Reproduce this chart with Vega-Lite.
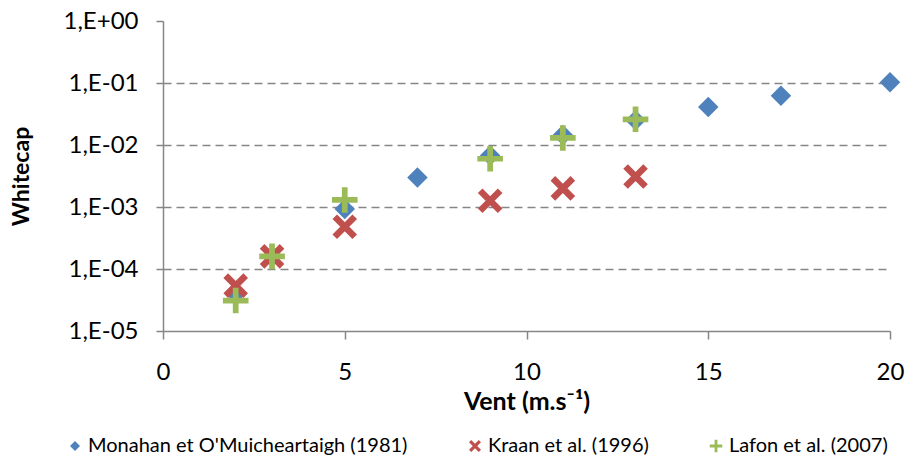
{
  "$schema": "https://vega.github.io/schema/vega-lite/v6.json",
  "width": 727,
  "height": 310,
  "autosize": {"type": "none"},
  "padding": {"left": 163, "top": 21, "right": 15, "bottom": 126},
  "background": "white",
  "config": {
    "view": {"stroke": null},
    "font": "Lato",
    "axis": {"labelFont": "Lato", "titleFont": "Lato", "labelColor": "#000000", "titleColor": "#000000", "domainColor": "#868686", "tickColor": "#868686", "domainWidth": 1.5, "tickWidth": 1.5}
  },
  "data": {
    "values": [
      {"v": 2, "w": 0.00004, "s": "Monahan et O'Muicheartaigh (1981)"},
      {"v": 3, "w": 0.00016, "s": "Monahan et O'Muicheartaigh (1981)"},
      {"v": 5, "w": 0.00093, "s": "Monahan et O'Muicheartaigh (1981)"},
      {"v": 7, "w": 0.0030, "s": "Monahan et O'Muicheartaigh (1981)"},
      {"v": 9, "w": 0.0068, "s": "Monahan et O'Muicheartaigh (1981)"},
      {"v": 11, "w": 0.0145, "s": "Monahan et O'Muicheartaigh (1981)"},
      {"v": 13, "w": 0.025, "s": "Monahan et O'Muicheartaigh (1981)"},
      {"v": 15, "w": 0.041, "s": "Monahan et O'Muicheartaigh (1981)"},
      {"v": 17, "w": 0.062, "s": "Monahan et O'Muicheartaigh (1981)"},
      {"v": 20, "w": 0.103, "s": "Monahan et O'Muicheartaigh (1981)"},
      {"v": 2, "w": 0.000054, "s": "Kraan et al. (1996)"},
      {"v": 3, "w": 0.00016, "s": "Kraan et al. (1996)"},
      {"v": 5, "w": 0.00048, "s": "Kraan et al. (1996)"},
      {"v": 9, "w": 0.00126, "s": "Kraan et al. (1996)"},
      {"v": 11, "w": 0.0020, "s": "Kraan et al. (1996)"},
      {"v": 13, "w": 0.0031, "s": "Kraan et al. (1996)"},
      {"v": 2, "w": 0.000031, "s": "Lafon et al. (2007)"},
      {"v": 3, "w": 0.00016, "s": "Lafon et al. (2007)"},
      {"v": 5, "w": 0.0013, "s": "Lafon et al. (2007)"},
      {"v": 9, "w": 0.0060, "s": "Lafon et al. (2007)"},
      {"v": 11, "w": 0.013, "s": "Lafon et al. (2007)"},
      {"v": 13, "w": 0.026, "s": "Lafon et al. (2007)"}
    ]
  },
  "mark": {"type": "point", "filled": true, "opacity": 1, "size": 420, "strokeWidth": 0},
  "encoding": {
    "x": {
      "field": "v", "type": "quantitative",
      "scale": {"domain": [0, 20], "nice": false, "zero": false},
      "axis": {
        "values": [0, 5, 10, 15, 20], "grid": false, "tickSize": 8, "labelFlush": false,
        "labelFontSize": 24, "labelPadding": 21,
        "title": "Vent (m.s⁻¹)", "titleFontSize": 25, "titleFontWeight": "bold", "titlePadding": 5
      }
    },
    "y": {
      "field": "w", "type": "quantitative",
      "scale": {"type": "log", "domain": [0.00001, 1], "nice": false},
      "axis": {
        "values": [0.00001, 0.0001, 0.001, 0.01, 0.1, 1],
        "labelExpr": "datum.value >= 1 ? '1,E+00' : '1,E-0' + abs(round(log(datum.value) / LN10))",
        "tickSize": 7, "labelFontSize": 24, "labelPadding": 18, "labelFlush": false,
        "grid": true, "gridColor": "#868686", "gridWidth": 1.5, "gridDash": [8, 5],
        "gridOpacity": {"condition": {"test": "datum.value >= 1 || datum.value <= 0.00001", "value": 0}, "value": 1},
        "title": "Whitecap", "titleFontSize": 23, "titleFontWeight": "bold", "titlePadding": 30
      }
    },
    "color": {
      "field": "s", "type": "nominal",
      "scale": {
        "domain": ["Monahan et O'Muicheartaigh (1981)", "Kraan et al. (1996)", "Lafon et al. (2007)"],
        "range": ["#4F81BD", "#C0504D", "#9BBB59"]
      },
      "legend": {
        "orient": "none", "direction": "horizontal", "legendX": -98, "legendY": 415,
        "title": null, "labelFontSize": 20, "labelColor": "#000000", "symbolSize": 100,
        "columnPadding": 57, "labelOffset": 3, "symbolStrokeWidth": 0, "labelLimit": 0
      }
    },
    "shape": {
      "field": "s", "type": "nominal",
      "scale": {
        "domain": ["Monahan et O'Muicheartaigh (1981)", "Kraan et al. (1996)", "Lafon et al. (2007)"],
        "range": [
          "diamond",
          "M-0.75,-1.2L1.2,0.75L0.75,1.2L-1.2,-0.75ZM0.75,-1.2L1.2,-0.75L-0.75,1.2L-1.2,0.75Z",
          "M-0.28,-1.25H0.28V-0.28H1.25V0.28H0.28V1.25H-0.28V0.28H-1.25V-0.28H-0.28Z"
        ]
      }
    }
  }
}
